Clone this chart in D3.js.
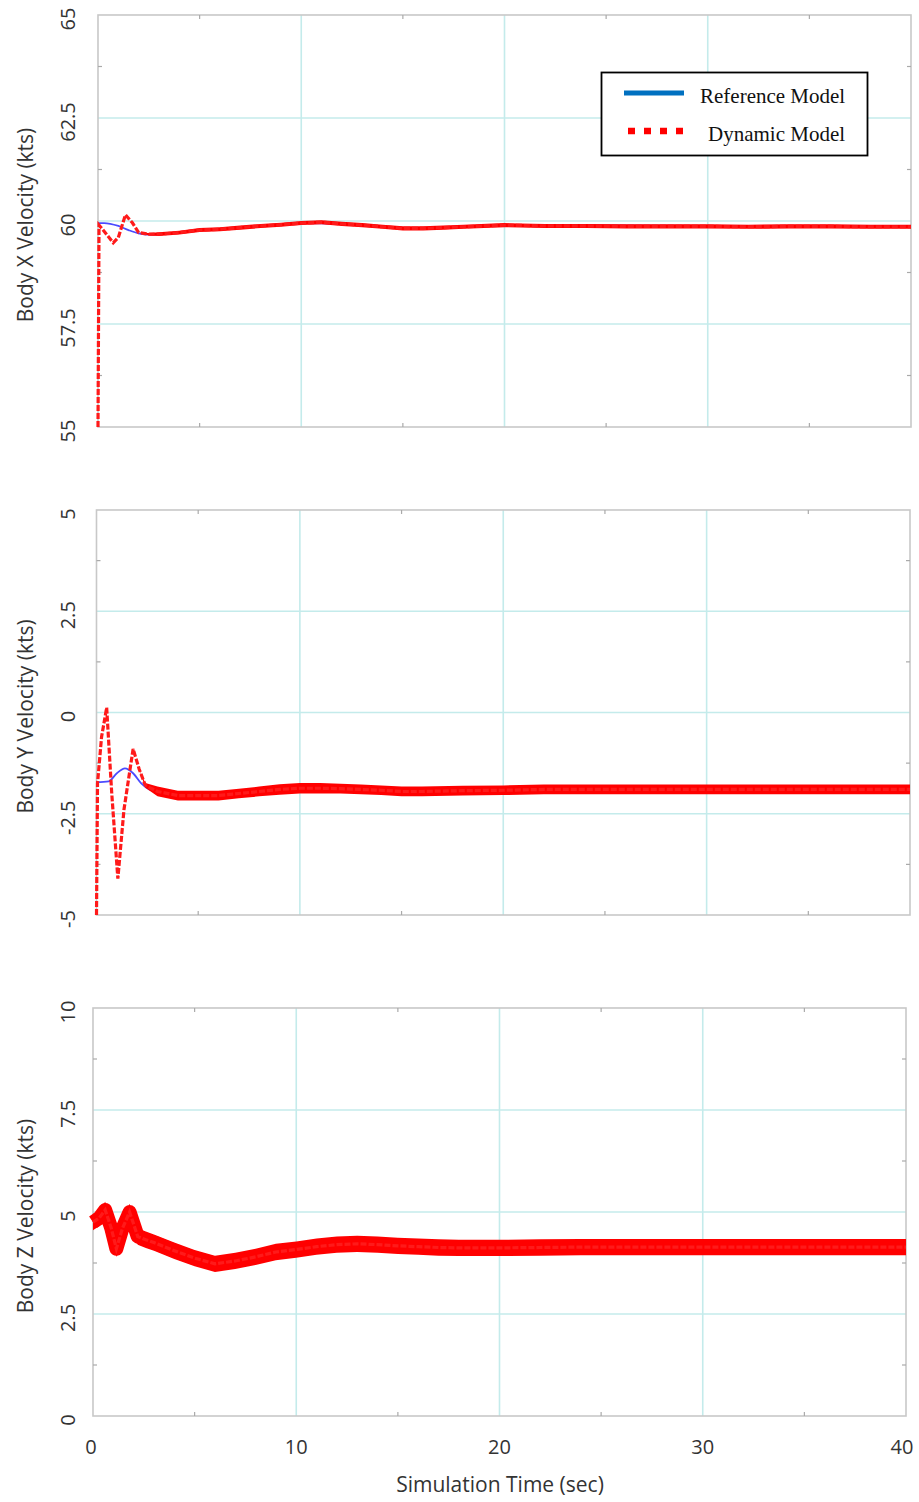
<!DOCTYPE html>
<html>
<head>
<meta charset="utf-8">
<script src="https://cdn.jsdelivr.net/npm/d3@7"></script>
<style>
  body { margin: 0; background: #fff; }
  svg { display: block; }
</style>
</head>
<body>
<script>
// ---- data ----
const xTicks = [0, 10, 20, 30, 40];
const xMinor = [5, 15, 25, 35];

// Body X
const yTicksX = [55, 57.5, 60, 62.5, 65];
const dynTimeX = [0, 0.05, 0.3, 0.75, 1.0, 1.35, 1.7, 2.0, 2.5, 3, 4, 5, 6, 7, 8, 9, 10, 11, 12, 13, 14, 15, 16, 17, 18, 20, 22, 24, 26, 28, 30, 32, 34, 36, 38, 40];
const dynX = [55, 59.9, 59.75, 59.47, 59.6, 60.15, 59.95, 59.72, 59.68, 59.68, 59.72, 59.78, 59.8, 59.84, 59.88, 59.91, 59.95, 59.97, 59.93, 59.9, 59.86, 59.82, 59.82, 59.84, 59.86, 59.9, 59.88, 59.88, 59.87, 59.87, 59.87, 59.86, 59.87, 59.87, 59.86, 59.86];
const noiseX = [0, 0, 0, 0, 0, 0, 0, 0, 0.03, 0.045, 0.045, 0.05, 0.05, 0.05, 0.05, 0.05, 0.05, 0.05, 0.05, 0.05, 0.05, 0.05, 0.05, 0.05, 0.05, 0.05, 0.05, 0.05, 0.05, 0.05, 0.05, 0.05, 0.05, 0.05, 0.05, 0.05];
const refTimeX = [0, 0.3, 1.0, 1.5, 2.0, 2.5, 3, 4, 5, 6, 8, 10, 12, 14, 16, 18, 20, 40];
const refX = [59.95, 59.95, 59.88, 59.78, 59.7, 59.67, 59.68, 59.72, 59.78, 59.8, 59.88, 59.95, 59.93, 59.86, 59.82, 59.86, 59.9, 59.86];

// Body Y
const yTicksY = [-5, -2.5, 0, 2.5, 5];
const dynTimeY = [0, 0.05, 0.25, 0.5, 0.75, 1.05, 1.35, 1.8, 2.1, 2.4, 3, 4, 5, 6, 7, 8, 9, 10, 11, 12, 13, 14, 15, 16, 18, 20, 22, 24, 26, 28, 30, 32, 34, 36, 38, 40];
const dynY = [-5, -1.75, -0.6, 0.12, -2.0, -4.1, -2.4, -0.9, -1.4, -1.8, -1.95, -2.05, -2.05, -2.05, -2.0, -1.95, -1.9, -1.87, -1.87, -1.88, -1.9, -1.92, -1.95, -1.95, -1.93, -1.92, -1.9, -1.9, -1.9, -1.9, -1.9, -1.9, -1.9, -1.9, -1.9, -1.9];
const noiseY = [0, 0, 0, 0, 0, 0, 0, 0, 0, 0.06, 0.12, 0.12, 0.12, 0.12, 0.12, 0.12, 0.13, 0.13, 0.13, 0.12, 0.12, 0.12, 0.12, 0.12, 0.12, 0.12, 0.12, 0.12, 0.12, 0.12, 0.12, 0.12, 0.12, 0.12, 0.12, 0.12];
const refTimeY = [0, 0.6, 1.0, 1.4, 1.8, 2.2, 2.6, 3, 4, 5, 6, 8, 10, 12, 15, 20, 40];
const refY = [-1.72, -1.7, -1.5, -1.38, -1.5, -1.75, -1.9, -1.95, -2.05, -2.05, -2.05, -1.95, -1.87, -1.88, -1.95, -1.92, -1.9];

// Body Z
const yTicksZ = [0, 2.5, 5, 7.5, 10];
const dynTimeZ = [0, 0.3, 0.6, 0.9, 1.15, 1.45, 1.8, 2.2, 2.6, 3, 4, 5, 6, 7, 8, 9, 10, 11, 12, 13, 14, 15, 16, 17, 18, 20, 22, 24, 26, 28, 30, 32, 34, 36, 38, 40];
const dynZ = [4.75, 4.85, 5.05, 4.6, 4.1, 4.6, 5.0, 4.4, 4.32, 4.25, 4.05, 3.87, 3.73, 3.8, 3.9, 4.02, 4.08, 4.15, 4.2, 4.22, 4.2, 4.17, 4.15, 4.13, 4.12, 4.12, 4.13, 4.14, 4.14, 4.14, 4.14, 4.14, 4.14, 4.14, 4.14, 4.14];
const noiseZ = [0.2, 0.2, 0.2, 0.2, 0.2, 0.2, 0.2, 0.2, 0.2, 0.2, 0.2, 0.2, 0.2, 0.2, 0.2, 0.2, 0.2, 0.2, 0.2, 0.2, 0.2, 0.2, 0.2, 0.2, 0.2, 0.2, 0.2, 0.2, 0.2, 0.2, 0.2, 0.2, 0.2, 0.2, 0.2, 0.2];
const refTimeZ = [0, 0.5, 1.0, 1.5, 2.0, 2.5, 3, 4, 5, 6, 8, 10, 13, 20, 40];
const refZ = [4.85, 4.82, 4.72, 4.6, 4.48, 4.38, 4.28, 4.05, 3.87, 3.73, 3.9, 4.08, 4.22, 4.12, 4.14];

const legendLabels = ["Reference Model", "Dynamic Model"];

// ---- layout ----
const width = 919, height = 1502;
const panels = [
    { title: "Body X Velocity (kts)", ticks: yTicksX, t: dynTimeX, v: dynX, n: noiseX, rt: refTimeX, rv: refX,
      left: 98, right: 911, top: 15, bottom: 427, core: 0 },
    { title: "Body Y Velocity (kts)", ticks: yTicksY, t: dynTimeY, v: dynY, n: noiseY, rt: refTimeY, rv: refY,
      left: 96.5, right: 910, top: 510, bottom: 915, core: 0 },
    { title: "Body Z Velocity (kts)", ticks: yTicksZ, t: dynTimeZ, v: dynZ, n: noiseZ, rt: refTimeZ, rv: refZ,
      left: 93, right: 906, top: 1008, bottom: 1416, core: 14 }
];

const svg = d3.select("body")
    .append("svg")
    .attr("width", width)
    .attr("height", height);

const tickFont = "'Open Sans', sans-serif";
const gridColor = "#c4ebeb";
const frameColor = "#c8c8c8";

panels.forEach((p, i) => {
    const x = d3.scaleLinear().domain([0, 40]).range([p.left, p.right]);
    const y = d3.scaleLinear().domain(d3.extent(p.ticks)).range([p.bottom, p.top]);
    const g = svg.append("g");

    // grid
    g.selectAll(".vgrid")
        .data(xTicks.slice(1, -1))
        .enter().append("line")
        .attr("x1", d => x(d)).attr("x2", d => x(d))
        .attr("y1", p.top).attr("y2", p.bottom)
        .attr("stroke", gridColor).attr("stroke-width", 1.6);
    g.selectAll(".hgrid")
        .data(p.ticks.slice(1, -1))
        .enter().append("line")
        .attr("x1", p.left).attr("x2", p.right)
        .attr("y1", d => y(d)).attr("y2", d => y(d))
        .attr("stroke", gridColor).attr("stroke-width", 1.6);

    // frame
    g.append("rect")
        .attr("x", p.left).attr("y", p.top)
        .attr("width", p.right - p.left).attr("height", p.bottom - p.top)
        .attr("fill", "none").attr("stroke", frameColor).attr("stroke-width", 1.6);

    // minor ticks
    const yMinor = p.ticks.slice(0, -1).map((d, k) => (d + p.ticks[k + 1]) / 2);
    xMinor.forEach(d => {
        g.append("line").attr("x1", x(d)).attr("x2", x(d)).attr("y1", p.top).attr("y2", p.top + 4)
            .attr("stroke", "#aaa").attr("stroke-width", 1.2);
        g.append("line").attr("x1", x(d)).attr("x2", x(d)).attr("y1", p.bottom).attr("y2", p.bottom - 4)
            .attr("stroke", "#aaa").attr("stroke-width", 1.2);
    });
    yMinor.forEach(d => {
        g.append("line").attr("x1", p.left).attr("x2", p.left + 4).attr("y1", y(d)).attr("y2", y(d))
            .attr("stroke", "#aaa").attr("stroke-width", 1.2);
        g.append("line").attr("x1", p.right).attr("x2", p.right - 4).attr("y1", y(d)).attr("y2", y(d))
            .attr("stroke", "#aaa").attr("stroke-width", 1.2);
    });

    // reference model
    const refPts = p.rt.map((t, k) => [t, p.rv[k]]);
    g.append("path")
        .attr("d", d3.line().x(d => x(d[0])).y(d => y(d[1])).curve(d3.curveMonotoneX)(refPts))
        .attr("fill", "none")
        .attr("stroke", "#4b4bff")
        .attr("stroke-width", 1.8);

    // dynamic model: noise band + dashed centre line
    const dynPts = p.t.map((t, k) => [t, p.v[k], p.n[k]]);
    g.append("path")
        .attr("d", d3.area().x(d => x(d[0])).y0(d => y(d[1] - d[2])).y1(d => y(d[1] + d[2]))(dynPts))
        .attr("fill", "#ff0000");
    if (p.core > 0) {
        g.append("path")
            .attr("d", d3.line().x(d => x(d[0])).y(d => y(d[1]))(dynPts))
            .attr("fill", "none")
            .attr("stroke", "#ff0000")
            .attr("stroke-width", p.core)
            .attr("stroke-linejoin", "round");
    }
    g.append("path")
        .attr("d", d3.line().x(d => x(d[0])).y(d => y(d[1]))(dynPts))
        .attr("fill", "none")
        .attr("stroke", "#ff1a1a")
        .attr("stroke-width", 3.2)
        .attr("stroke-dasharray", "6,2");

    // y tick labels (rotated)
    g.selectAll(".ylab")
        .data(p.ticks)
        .enter().append("text")
        .attr("transform", d => `translate(67,${y(d) + 4}) rotate(-90)`)
        .attr("text-anchor", "middle")
        .attr("dominant-baseline", "central")
        .attr("font-family", tickFont)
        .attr("font-size", 20)
        .attr("fill", "#333")
        .text(d => d);

    // y title
    g.append("text")
        .attr("transform", `translate(25,${(p.top + p.bottom) / 2 + 4}) rotate(-90)`)
        .attr("text-anchor", "middle")
        .attr("dominant-baseline", "central")
        .attr("font-family", tickFont)
        .attr("font-size", 21)
        .attr("fill", "#333")
        .text(p.title);

    // x axis labels only on the last panel
    if (i === panels.length - 1) {
        g.selectAll(".xlab")
            .data(xTicks)
            .enter().append("text")
            .attr("x", d => x(d) + (d === 0 ? -2 : d === 40 ? -4 : 0))
            .attr("y", 1446)
            .attr("text-anchor", "middle")
            .attr("dominant-baseline", "central")
            .attr("font-family", tickFont)
            .attr("font-size", 20)
            .attr("fill", "#333")
            .text(d => d);
        g.append("text")
            .attr("x", 500)
            .attr("y", 1484)
            .attr("text-anchor", "middle")
            .attr("dominant-baseline", "central")
            .attr("font-family", tickFont)
            .attr("font-size", 21)
            .attr("fill", "#333")
            .text("Simulation Time (sec)");
    }
});

// legend
const legend = svg.append("g");
legend.append("rect")
    .attr("x", 601.5).attr("y", 72.5)
    .attr("width", 266).attr("height", 83)
    .attr("fill", "#fff").attr("stroke", "#000").attr("stroke-width", 1.8);
legend.append("line")
    .attr("x1", 624).attr("x2", 684).attr("y1", 93).attr("y2", 93)
    .attr("stroke", "#0070c0").attr("stroke-width", 5);
legend.append("line")
    .attr("x1", 628).attr("x2", 684).attr("y1", 131).attr("y2", 131)
    .attr("stroke", "#ff0000").attr("stroke-width", 6.5)
    .attr("stroke-dasharray", "7,9");
legend.selectAll(".ltext")
    .data(legendLabels)
    .enter().append("text")
    .attr("x", (d, k) => k === 0 ? 700 : 708)
    .attr("y", (d, k) => k === 0 ? 103 : 141)
    .attr("font-family", "'Liberation Serif', 'Times New Roman', serif")
    .attr("font-size", 21)
    .attr("fill", "#111")
    .text(d => d);
</script>
</body>
</html>
